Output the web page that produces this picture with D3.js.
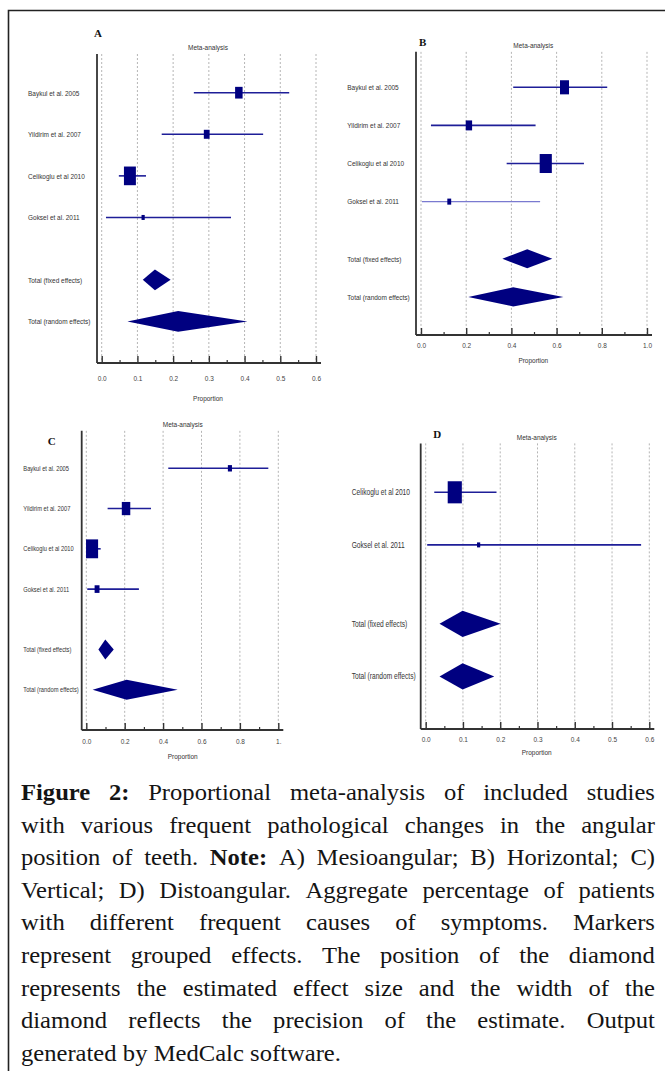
<!DOCTYPE html>
<html><head><meta charset="utf-8">
<script src="https://cdn.jsdelivr.net/npm/d3@7"></script>
<style>
body{margin:0;background:#fff;}
svg{display:block;}
</style></head><body>
<svg id="chart" width="665" height="1071"></svg>
<script>
// ---------- DATA ----------
const studyNames = ["Baykul et al. 2005","Yildirim et al. 2007","Celikoglu et al 2010","Goksel et al. 2011"];
const totalNames = ["Total (fixed effects)","Total (random effects)"];

// Panel A – Mesioangular
const aEst    = [0.384, 0.294, 0.079, 0.116];
const aLow    = [0.258, 0.168, 0.048, 0.012];
const aHigh   = [0.525, 0.452, 0.124, 0.362];
const aWeight = [22, 13, 56, 4];
const aFixed  = [0.115, 0.149, 0.193];   // low, est, high
const aRandom = [0.072, 0.214, 0.408];
const aTicks  = [0, 0.1, 0.2, 0.3, 0.4, 0.5, 0.6];
const aTickLabels = ["0.0","0.1","0.2","0.3","0.4","0.5","0.6"];

// Panel B – Horizontal
const bEst    = [0.635, 0.212, 0.552, 0.125];
const bLow    = [0.408, 0.044, 0.379, 0.004];
const bHigh   = [0.824, 0.507, 0.721, 0.527];
const bWeight = [38, 19, 69, 7];
const bFixed  = [0.360, 0.470, 0.581];
const bRandom = [0.209, 0.408, 0.630];
const bTicks  = [0, 0.2, 0.4, 0.6, 0.8, 1.0];
const bTickLabels = ["0.0","0.2","0.4","0.6","0.8","1.0"];

// Panel C – Vertical
const cEst    = [0.748, 0.207, 0.030, 0.056];
const cLow    = [0.427, 0.111, 0.004, 0.005];
const cHigh   = [0.948, 0.337, 0.075, 0.274];
const cWeight = [7, 30, 61, 10];
const cFixed  = [0.063, 0.099, 0.143];
const cRandom = [0.033, 0.210, 0.476];
const cTicks  = [0, 0.2, 0.4, 0.6, 0.8, 1.0];
const cTickLabels = ["0.0","0.2","0.4","0.6","0.8","1."];

// Panel D – Distoangular
const dStudies = ["Celikoglu et al 2010","Goksel et al. 2011"];
const dEst    = [0.078, 0.142];
const dLow    = [0.023, 0.004];
const dHigh   = [0.190, 0.578];
const dWeight = [49, 2.5];
const dFixed  = [0.037, 0.099, 0.201];
const dRandom = [0.037, 0.099, 0.184];
const dTicks  = [0, 0.1, 0.2, 0.3, 0.4, 0.5, 0.6];
const dTickLabels = ["0.0","0.1","0.2","0.3","0.4","0.5","0.6"];

const captionLines = [
  "Figure 2: Proportional meta-analysis of included studies",
  "with various frequent pathological changes in the angular",
  "position of teeth. Note: A) Mesioangular; B) Horizontal; C)",
  "Vertical; D) Distoangular. Aggregate percentage of patients",
  "with different frequent causes of symptoms. Markers",
  "represent grouped effects. The position of the diamond",
  "represents the estimated effect size and the width of the",
  "diamond reflects the precision of the estimate. Output",
  "generated by MedCalc software."
];
const boldWords = ["Figure", "2:", "Note:"];

// ---------- LAYOUT ----------
const panels = [
  {letter:"A", studies:studyNames, est:aEst, low:aLow, high:aHigh, weight:aWeight, fixed:aFixed, random:aRandom,
   ticks:aTicks, tickLabels:aTickLabels, minorStep:0.05,
   axisX:97, x0:101.7, x1:316, row0:92.7, axisY:363, labelX:28, fs:8,
   letterPos:[98,37], titleX:208, titleY:50, tickLabelY:381, propY:401},
  {letter:"B", studies:studyNames, est:bEst, low:bLow, high:bHigh, weight:bWeight, fixed:bFixed, random:bRandom,
   ticks:bTicks, tickLabels:bTickLabels, minorStep:0.1,
   axisX:416, x0:421, x1:647, row0:87.3, axisY:335, labelX:347.3, fs:8,
   letterPos:[422.7,45.5], titleX:533.3, titleY:48, tickLabelY:348, propY:363, lightLast:true},
  {letter:"C", studies:studyNames, est:cEst, low:cLow, high:cHigh, weight:cWeight, fixed:cFixed, random:cRandom,
   ticks:cTicks, tickLabels:cTickLabels, minorStep:0.1,
   axisX:81.7, x0:86.3, x1:278.3, row0:468.3, axisY:730, labelX:23.3, fs:7.1,
   letterPos:[51.7,444.5], titleX:182.7, titleY:427, tickLabelY:744, propY:759},
  {letter:"D", studies:dStudies, est:dEst, low:dLow, high:dHigh, weight:dWeight, fixed:dFixed, random:dRandom,
   ticks:dTicks, tickLabels:dTickLabels, minorStep:0.05,
   axisX:420.7, x0:425.7, x1:649.3, row0:492.3, axisY:729, labelX:351.7, fs:8.2,
   letterPos:[437.3,438], titleX:536.7, titleY:440, tickLabelY:741.5, propY:755}
];

const NAVY = "#000080";
const LINE = "#1e1e98";
const AX = "#333";
const SANS = '"Liberation Sans",Arial,sans-serif';
const SERIF = '"Liberation Serif","Times New Roman",serif';
const NARROW = 0.81;   // condensed look of the MedCalc labels
const CAPX = 1.07;     // wider look of the caption serif

const svg = d3.select("#chart");

// outer frame
svg.append("path").attr("d","M8.5,1071 V10.5 H665").attr("fill","none").attr("stroke","#222").attr("stroke-width",1.6);

function narrowText(sel, x, y, txt, fs, anchor) {
  return sel.append("text")
    .attr("transform", `translate(${x},${y}) scale(${NARROW},1)`)
    .attr("text-anchor", anchor || "start")
    .attr("font-family", SANS).attr("font-size", fs).attr("fill", "#333")
    .text(txt);
}

function drawPanel(p){
  const g = svg.append("g");
  const dom = [p.ticks[0], p.ticks[p.ticks.length-1]];
  const x = d3.scaleLinear().domain(dom).range([p.x0, p.x1]);
  const n = p.studies.length;
  const step = (p.axisY - p.row0) / (n + 2.5);
  const y = d3.scaleLinear().domain([0, 1]).range([p.row0, p.row0 + step]);
  const top = p.row0 - 0.93 * step;
  const size = d3.scaleSqrt().domain([0, 100]).range([0, step * 0.6]);

  // gridlines
  g.append("g").selectAll("line").data(p.ticks).join("line")
    .attr("x1", d => x(d)).attr("x2", d => x(d))
    .attr("y1", top).attr("y2", p.axisY)
    .attr("stroke", "#b5b5b5").attr("stroke-width", 1).attr("stroke-dasharray", "2,2");

  // minor ticks
  const minor = d3.range(dom[0], dom[1] + 1e-9, p.minorStep).filter(v => !p.ticks.some(t => Math.abs(t - v) < 1e-9));
  const minorAxis = d3.axisBottom(x).tickValues(minor).tickSize(-3).tickFormat("");
  const gm = g.append("g").attr("transform", `translate(0,${p.axisY})`).call(minorAxis);
  gm.select(".domain").remove();
  gm.selectAll("line").attr("stroke", AX).attr("stroke-width", 1.2);

  // major axis
  const axis = d3.axisBottom(x).tickValues(p.ticks).tickSize(-7).tickPadding(9)
    .tickFormat((d, i) => p.tickLabels[i]);
  const ga = g.append("g").attr("transform", `translate(0,${p.axisY})`).call(axis);
  ga.select(".domain").remove();
  ga.selectAll("line").attr("stroke", AX).attr("stroke-width", 1.4);
  ga.selectAll("text").attr("font-family", SANS).attr("font-size", 8).attr("fill", "#444")
    .attr("y", null).attr("dy", null)
    .attr("transform", `translate(0,${p.tickLabelY - p.axisY}) scale(${NARROW},1)`);

  // axis lines
  g.append("line").attr("x1", p.axisX).attr("x2", p.x1 + 5).attr("y1", p.axisY).attr("y2", p.axisY)
    .attr("stroke", AX).attr("stroke-width", 1.8);
  g.append("line").attr("x1", p.axisX).attr("x2", p.axisX).attr("y1", top).attr("y2", p.axisY)
    .attr("stroke", AX).attr("stroke-width", 1.8);

  // study rows
  const rows = p.studies.map((s, i) => ({name: s, i, est: p.est[i], lo: p.low[i], hi: p.high[i], w: p.weight[i]}));
  g.append("g").selectAll("line").data(rows).join("line")
    .attr("x1", d => x(d.lo)).attr("x2", d => x(d.hi))
    .attr("y1", d => y(d.i)).attr("y2", d => y(d.i))
    .attr("stroke", d => (p.lightLast && d.i === n - 1) ? "#7a7ad0" : LINE)
    .attr("stroke-width", d => (p.lightLast && d.i === n - 1) ? 1.2 : 1.6);
  g.append("g").selectAll("rect").data(rows).join("rect")
    .attr("x", d => x(d.est) - size(d.w) * 0.32)
    .attr("y", d => y(d.i) - size(d.w) / 2)
    .attr("width", d => size(d.w) * 0.64)
    .attr("height", d => size(d.w))
    .attr("fill", NAVY);

  // totals (diamonds)
  const tot = [{name: totalNames[0], v: p.fixed, r: n + 0.5}, {name: totalNames[1], v: p.random, r: n + 1.5}];
  g.append("g").selectAll("polygon").data(tot).join("polygon")
    .attr("points", d => {
      const yc = y(d.r), hh = step * 0.25;
      return [[x(d.v[0]), yc], [x(d.v[1]), yc - hh], [x(d.v[2]), yc], [x(d.v[1]), yc + hh]].map(q => q.join(",")).join(" ");
    })
    .attr("fill", NAVY);

  // labels
  const labels = rows.map(d => ({name: d.name, r: d.i})).concat(tot.map(d => ({name: d.name, r: d.r})));
  const lg = g.append("g");
  labels.forEach(d => narrowText(lg, p.labelX, y(d.r) + p.fs * 0.35, d.name, p.fs, "start"));

  // panel letter
  g.append("text").attr("x", p.letterPos[0]).attr("y", p.letterPos[1])
    .attr("text-anchor", "middle").attr("font-family", SERIF).attr("font-weight", "bold")
    .attr("font-size", 11).attr("fill", "#111").text(p.letter);
  // title and x label
  narrowText(g, p.titleX, p.titleY, "Meta-analysis", 8, "middle");
  narrowText(g, p.titleX, p.propY, "Proportion", 8, "middle");
}
panels.forEach(drawPanel);

// ---------- CAPTION (justified) ----------
const capLeft = 21, capRight = 655, capBase = 800, capLH = 32.6, capFS = 23;
const cap = svg.append("g").attr("font-family", SERIF).attr("font-size", capFS).attr("fill", "#141414");
captionLines.forEach((line, li) => {
  const words = line.split(" ");
  const yy = capBase + li * capLH;
  const nodes = words.map(w => cap.append("text")
    .attr("font-weight", boldWords.includes(w) && (w !== "2:" || li === 0) ? "bold" : null)
    .text(w));
  const widths = nodes.map(t => t.node().getComputedTextLength() * CAPX);
  const total = d3.sum(widths);
  const last = li === captionLines.length - 1;
  const spaceW = capFS * 0.27;
  const gap = last ? spaceW : (capRight - capLeft - total) / (words.length - 1);
  let cx = capLeft;
  nodes.forEach((t, i) => {
    t.attr("transform", `translate(${cx},${yy}) scale(${CAPX},1)`);
    cx += widths[i] + gap;
  });
});
</script>
</body></html>
